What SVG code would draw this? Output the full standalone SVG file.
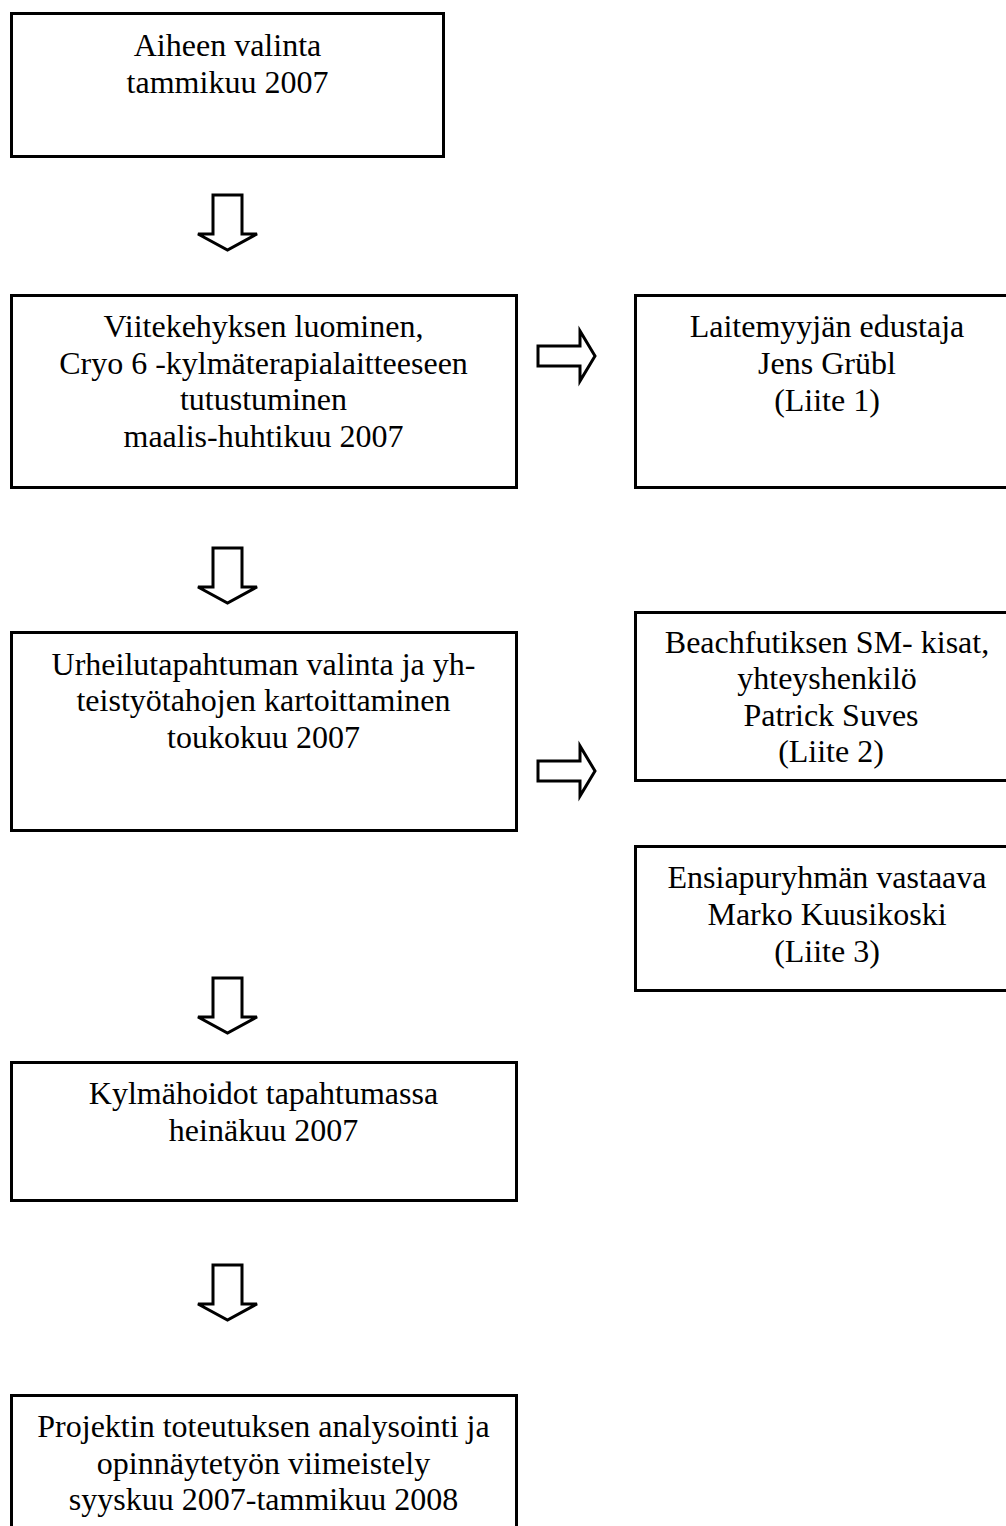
<svg xmlns="http://www.w3.org/2000/svg" width="1006" height="1526" viewBox="0 0 1006 1526">
<style>
.box{fill:#fff;stroke:#000;stroke-width:3}
.arr{fill:#fff;stroke:#000;stroke-width:3;stroke-linejoin:miter}
text{font-family:"Liberation Serif","Times New Roman",serif;font-size:32px;fill:#000;text-anchor:middle}
</style>
<rect width="1006" height="1526" fill="#fff"/>
<g id="connectors">
<path class="arr" d="M213,195 H242 V234 H257 L227.5,250 L198,234 H213 Z"/>
<path class="arr" d="M213,548 H242 V587 H257 L227.5,603 L198,587 H213 Z"/>
<path class="arr" d="M213,978 H242 V1017 H257 L227.5,1033 L198,1017 H213 Z"/>
<path class="arr" d="M213,1265 H242 V1304 H257 L227.5,1320 L198,1304 H213 Z"/>
<path class="arr" d="M538,346 H580 V331 L595,356 L580,381 V366 H538 Z"/>
<path class="arr" d="M538,761 H580 V746 L595,771 L580,796 V781 H538 Z"/>
</g>
<g id="n1">
<rect class="box" x="11.5" y="13.5" width="432" height="143"/>
<text x="227.5" y="56">Aiheen valinta</text>
<text x="227.5" y="93">tammikuu 2007</text>
</g>
<g id="n2">
<rect class="box" x="11.5" y="295.5" width="505" height="192"/>
<text x="263.5" y="337">Viitekehyksen luominen,</text>
<text x="263.5" y="374">Cryo 6 -kylmäterapialaitteeseen</text>
<text x="263.5" y="410">tutustuminen</text>
<text x="263.5" y="447">maalis-huhtikuu 2007</text>
</g>
<g id="n3">
<rect class="box" x="11.5" y="632.5" width="505" height="198"/>
<text x="263.5" y="675">Urheilutapahtuman valinta ja yh-</text>
<text x="263.5" y="711">teistyötahojen kartoittaminen</text>
<text x="263.5" y="748">toukokuu 2007</text>
</g>
<g id="n4">
<rect class="box" x="11.5" y="1062.5" width="505" height="138"/>
<text x="263.5" y="1104">Kylmähoidot tapahtumassa</text>
<text x="263.5" y="1141">heinäkuu 2007</text>
</g>
<g id="n5">
<rect class="box" x="11.5" y="1395.5" width="505" height="160"/>
<text x="263.5" y="1437">Projektin toteutuksen analysointi ja</text>
<text x="263.5" y="1474">opinnäytetyön viimeistely</text>
<text x="263.5" y="1510">syyskuu 2007-tammikuu 2008</text>
</g>
<g id="r1">
<rect class="box" x="635.5" y="295.5" width="384" height="192"/>
<text x="827" y="337">Laitemyyjän edustaja</text>
<text x="827" y="374">Jens Grübl</text>
<text x="827" y="411">(Liite 1)</text>
</g>
<g id="r2">
<rect class="box" x="635.5" y="612.5" width="384" height="168"/>
<text x="827" y="653">Beachfutiksen SM- kisat,</text>
<text x="827" y="689">yhteyshenkilö</text>
<text x="831" y="726">Patrick Suves</text>
<text x="831" y="762">(Liite 2)</text>
</g>
<g id="r3">
<rect class="box" x="635.5" y="846.5" width="384" height="144"/>
<text x="827" y="888">Ensiapuryhmän vastaava</text>
<text x="827" y="925">Marko Kuusikoski</text>
<text x="827" y="962">(Liite 3)</text>
</g>
</svg>
